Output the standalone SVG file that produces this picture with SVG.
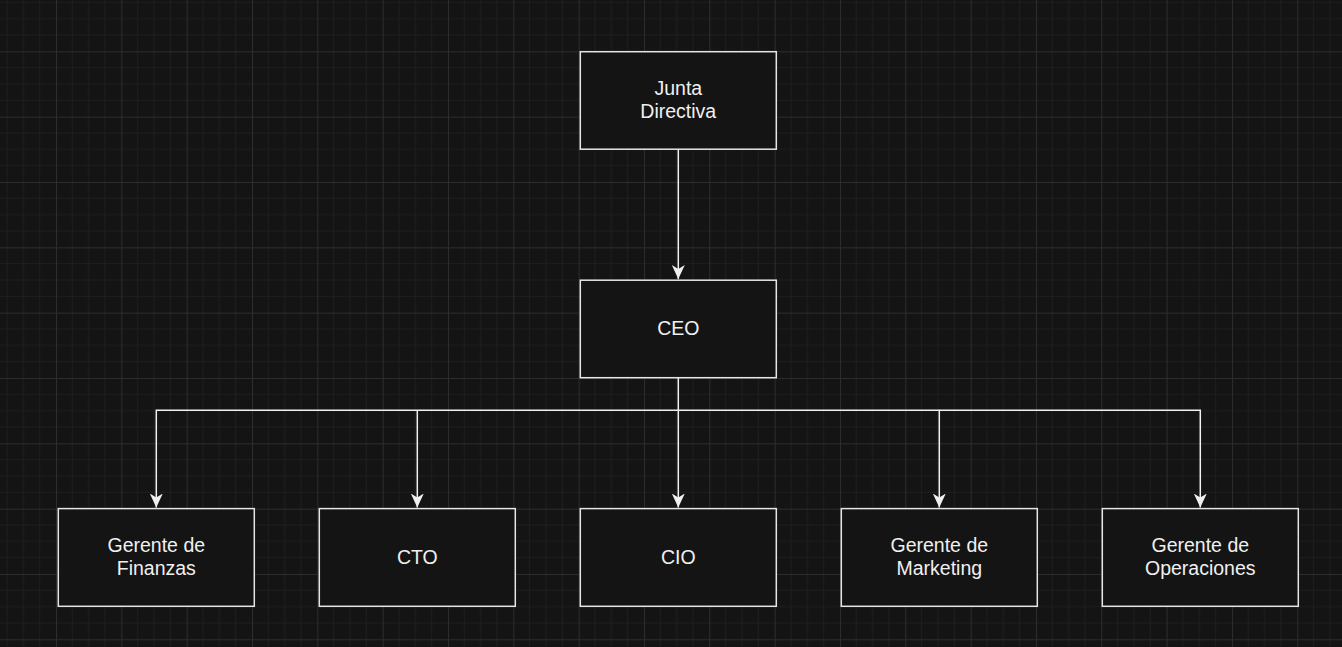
<svg xmlns="http://www.w3.org/2000/svg" width="1342" height="647" viewBox="0 0 1342 647">
<defs>
<pattern id="grid" patternUnits="userSpaceOnUse" x="56" y="51.33" width="65.33" height="65.33">
<path d="M16.33 0V65.33M32.67 0V65.33M49 0V65.33M0 16.33H65.33M0 32.67H65.33M0 49H65.33" stroke="#1e1e1e" stroke-width="1" fill="none"/>
<path d="M0.5 0V65.33M0 0.5H65.33" stroke="#2d2d2d" stroke-width="1" fill="none"/>
</pattern>
<marker id="arr" markerUnits="userSpaceOnUse" markerWidth="16" markerHeight="16" refX="14" refY="6.5" orient="auto">
<path d="M0 0L14 6.5L0 13L4 6.5Z" fill="#f0f0f0"/>
</marker>
</defs>
<style>
.box{fill:#141414;stroke:#e6e6e6;stroke-width:1.5}
.lbl{font-family:"Liberation Sans",Helvetica,Arial,sans-serif;font-size:19.5px;fill:#f0f0f0;text-anchor:middle}
.edge{fill:none;stroke:#f0f0f0;stroke-width:1.5}
</style>
<rect width="1342" height="647" fill="#141414"/>
<rect width="1342" height="647" fill="url(#grid)"/>
<g id="connectors">
<path class="edge" d="M678.3 149V279" marker-end="url(#arr)"/>
<path class="edge" d="M678.3 378V410.3H156.3V507.5" marker-end="url(#arr)"/>
<path class="edge" d="M417.3 410.3V507.5" marker-end="url(#arr)"/>
<path class="edge" d="M678.3 410.3V507.5" marker-end="url(#arr)"/>
<path class="edge" d="M678.3 410.3H939.3V507.5" marker-end="url(#arr)"/>
<path class="edge" d="M939.3 410.3H1200.3V507.5" marker-end="url(#arr)"/>
</g>
<g id="junta">
<rect class="box" x="580.3" y="51.7" width="196" height="97.5"/>
<text class="lbl" x="678.3" y="94.6">Junta</text>
<text class="lbl" x="678.3" y="118">Directiva</text>
</g>
<g id="ceo">
<rect class="box" x="580.3" y="280.2" width="196" height="97.5"/>
<text class="lbl" x="678.3" y="335">CEO</text>
</g>
<g id="finanzas">
<rect class="box" x="58.3" y="508.6" width="196" height="97.7"/>
<text class="lbl" x="156.3" y="551.8">Gerente de</text>
<text class="lbl" x="156.3" y="575.1">Finanzas</text>
</g>
<g id="cto">
<rect class="box" x="319.3" y="508.6" width="196" height="97.7"/>
<text class="lbl" x="417.3" y="563.5">CTO</text>
</g>
<g id="cio">
<rect class="box" x="580.3" y="508.6" width="196" height="97.7"/>
<text class="lbl" x="678.3" y="563.5">CIO</text>
</g>
<g id="marketing">
<rect class="box" x="841.3" y="508.6" width="196" height="97.7"/>
<text class="lbl" x="939.3" y="551.8">Gerente de</text>
<text class="lbl" x="939.3" y="575.1">Marketing</text>
</g>
<g id="operaciones">
<rect class="box" x="1102.3" y="508.6" width="196" height="97.7"/>
<text class="lbl" x="1200.3" y="551.8">Gerente de</text>
<text class="lbl" x="1200.3" y="575.1">Operaciones</text>
</g>
</svg>
